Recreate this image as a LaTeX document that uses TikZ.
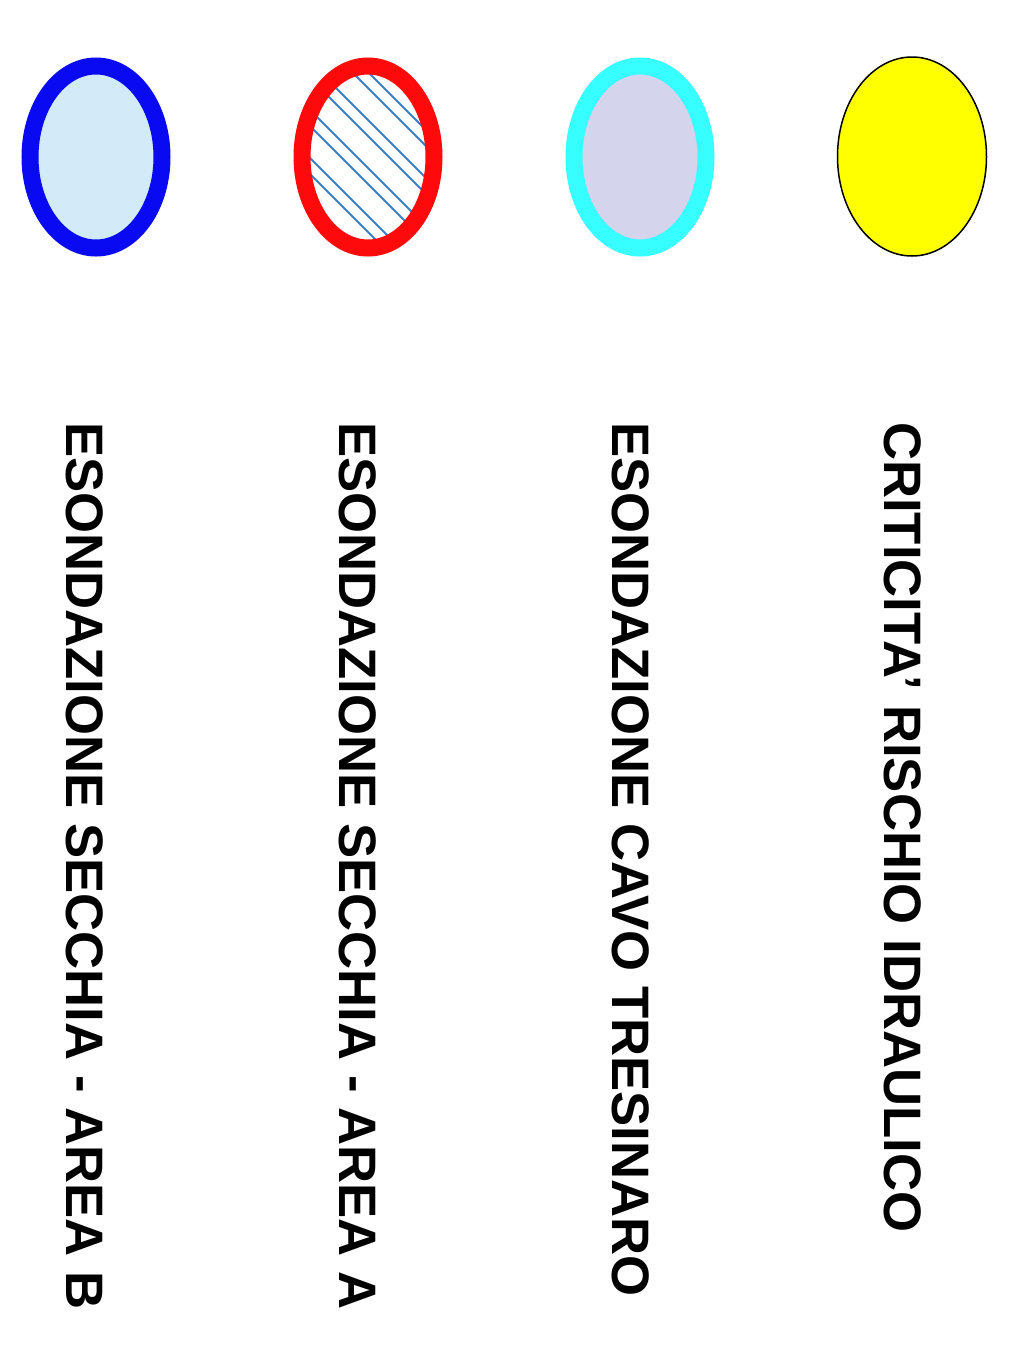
\documentclass[tikz,border=0pt]{standalone}
\usepackage{fontspec}
\setmainfont{Liberation Sans}
\begin{document}
\begin{tikzpicture}[x=1pt,y=-1pt,
  ring/.style={line width=17pt},
  lbl/.style={rotate=-90,anchor=base west,inner sep=0pt,font=\fontsize{52.7}{60}\selectfont\bfseries},
  hatch/.style={draw=hatchblue,line width=2pt}]
\definecolor{ringblue}{HTML}{0A0AF2}
\definecolor{lightblue}{HTML}{D2EBF8}
\definecolor{ringred}{HTML}{FF0A0A}
\definecolor{ringcyan}{HTML}{38FFFF}
\definecolor{lavender}{HTML}{D4D4EC}
\definecolor{hatchblue}{HTML}{3A7FC6}
\definecolor{yel}{HTML}{FFFF00}
\useasboundingbox[fill=white] (0,0) rectangle (1033,1363);
% blue ellipse
\node[coordinate] (cb) at (96,157) {};
\fill[lightblue] (cb) ellipse [x radius=66, y radius=91];
\draw[ring,ringblue] (cb) ellipse [x radius=66, y radius=91];
% red ellipse with hatching
\node[coordinate] (cr) at (368,157) {};
\begin{scope}
  \clip (cr) ellipse [x radius=62, y radius=88];
  \foreach \c in {-296,-280,-248,-232,-200,-184,-152,-136}{
    \draw[hatch] (280,{280+\c}) -- (460,{460+\c});
  }
\end{scope}
\draw[ring,ringred] (cr) ellipse [x radius=66, y radius=91];
% cyan ellipse
\node[coordinate] (cc) at (640,157) {};
\fill[lavender] (cc) ellipse [x radius=66, y radius=91];
\draw[ring,ringcyan] (cc) ellipse [x radius=66, y radius=91];
% yellow ellipse
\node[coordinate] (cy) at (912,156.5) {};
\draw[fill=yel,draw=black,line width=1.5pt] (cy) ellipse [x radius=74.5, y radius=99.5];
% labels
\node[lbl] (t1) at (66.7,422) {ESONDAZIONE SECCHIA - AREA B};
\node[lbl] (t2) at (339,422) {ESONDAZIONE SECCHIA - AREA A};
\node[lbl] (t3) at (612,422) {ESONDAZIONE CAVO TRESINARO};
\node[lbl] (t4) at (884,422) {CRITICITA' RISCHIO IDRAULICO};
\end{tikzpicture}
\end{document}
